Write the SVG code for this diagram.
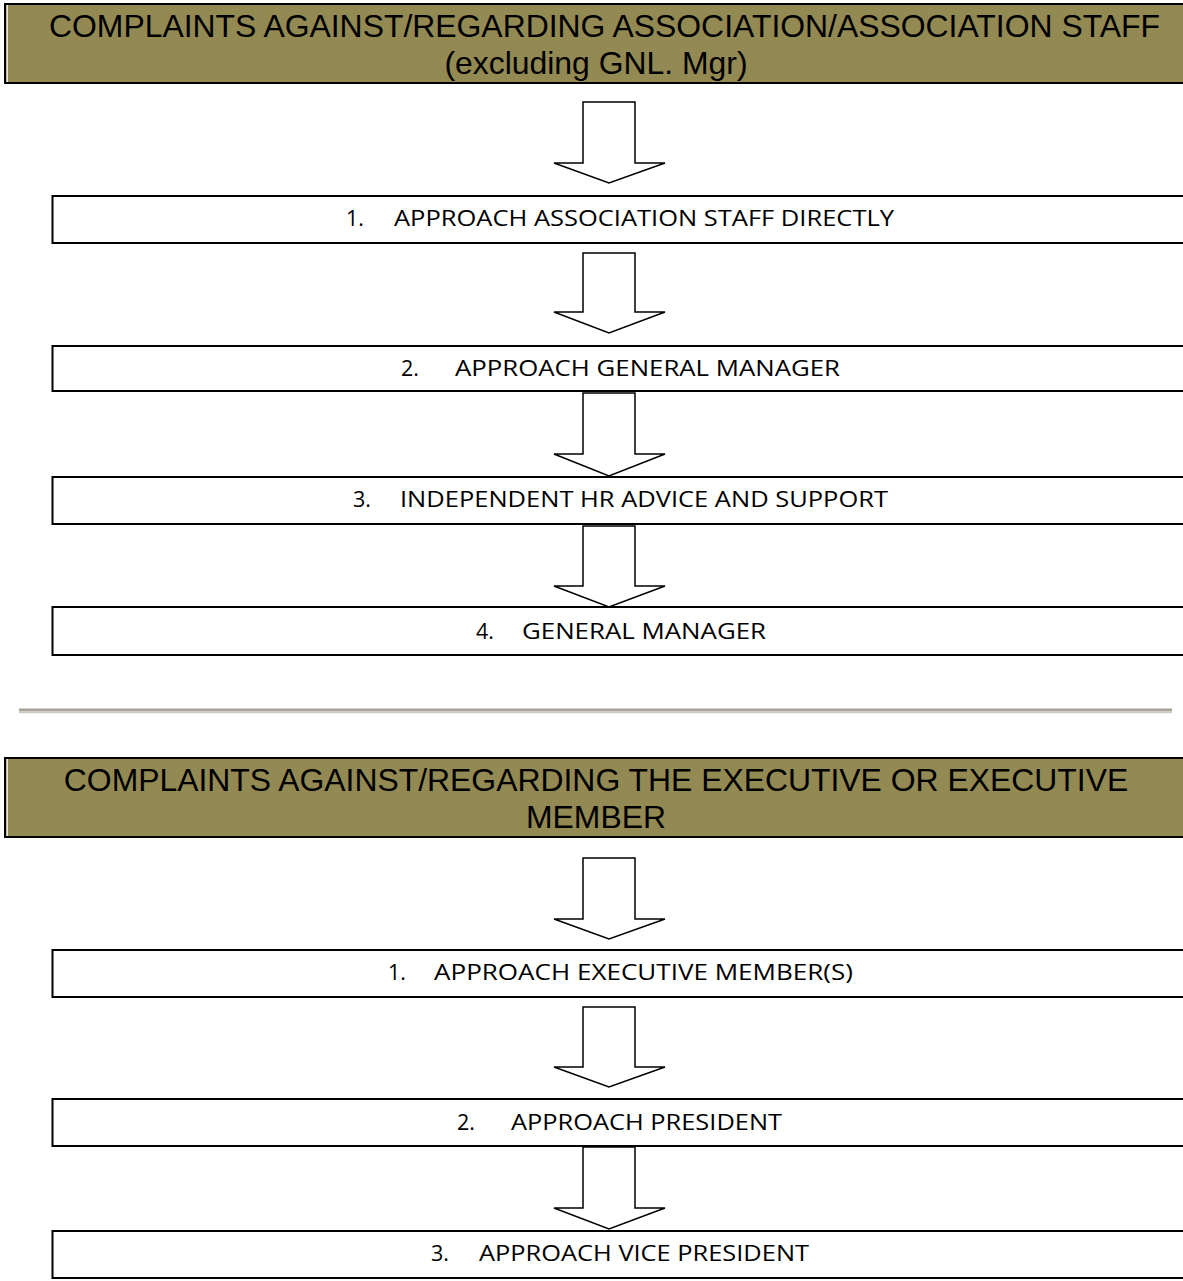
<svg xmlns="http://www.w3.org/2000/svg" width="1183" height="1281" viewBox="0 0 1183 1281">
<style>
.hdr{fill:#938953;stroke:#000;stroke-width:2}
.htxt{font-family:"Liberation Sans",Arial,sans-serif;font-size:31.9px;fill:#000;text-anchor:middle}
.box{fill:#fff;stroke:#000;stroke-width:2}
.btxt{font-family:"Open Sans","Liberation Sans",sans-serif;font-size:21.5px;fill:#000}
.arr{fill:#fff;stroke:#000;stroke-width:1.5;stroke-linejoin:miter}
</style>
<rect width="1183" height="1281" fill="#fff"/>
<g id="header1">
<rect class="hdr" x="5" y="4" width="1200" height="79"/>
<line x1="7.2" y1="5" x2="7.2" y2="82" stroke="#fff" stroke-width="1.2"/>
<text class="htxt" x="604.5" y="37">COMPLAINTS AGAINST/REGARDING ASSOCIATION/ASSOCIATION STAFF</text>
<text class="htxt" x="596" y="74">(excluding GNL. Mgr)</text>
</g>
<g id="a-step1">
<rect class="box" x="52.5" y="196" width="1160" height="47"/>
<text class="btxt" x="346" y="226">1.</text>
<text class="btxt" x="394" y="226" textLength="500" lengthAdjust="spacingAndGlyphs">APPROACH ASSOCIATION STAFF DIRECTLY</text>
</g>
<g id="a-step2">
<rect class="box" x="52.5" y="346" width="1160" height="45"/>
<text class="btxt" x="401" y="376">2.</text>
<text class="btxt" x="455" y="376" textLength="385" lengthAdjust="spacingAndGlyphs">APPROACH GENERAL MANAGER</text>
</g>
<g id="a-step3">
<rect class="box" x="52.5" y="477" width="1160" height="47"/>
<text class="btxt" x="353" y="507">3.</text>
<text class="btxt" x="400" y="507" textLength="488" lengthAdjust="spacingAndGlyphs">INDEPENDENT HR ADVICE AND SUPPORT</text>
</g>
<g id="a-step4">
<rect class="box" x="52.5" y="607" width="1160" height="48"/>
<text class="btxt" x="476" y="639">4.</text>
<text class="btxt" x="522" y="639" textLength="244" lengthAdjust="spacingAndGlyphs">GENERAL MANAGER</text>
</g>
<g id="divider">
<line x1="19" y1="710" x2="1172" y2="710" stroke="#a7a396" stroke-width="3"/>
<line x1="19" y1="712.5" x2="1172" y2="712.5" stroke="#cdcac2" stroke-width="1.5"/>
</g>
<g id="header2">
<rect class="hdr" x="5" y="758" width="1200" height="79"/>
<line x1="7.2" y1="759" x2="7.2" y2="836" stroke="#fff" stroke-width="1.2"/>
<text class="htxt" x="596" y="791">COMPLAINTS AGAINST/REGARDING THE EXECUTIVE OR EXECUTIVE</text>
<text class="htxt" x="596" y="828">MEMBER</text>
</g>
<g id="b-step1">
<rect class="box" x="52.5" y="950" width="1160" height="47"/>
<text class="btxt" x="388" y="980">1.</text>
<text class="btxt" x="434" y="980" textLength="419" lengthAdjust="spacingAndGlyphs">APPROACH EXECUTIVE MEMBER(S)</text>
</g>
<g id="b-step2">
<rect class="box" x="52.5" y="1099" width="1160" height="47"/>
<text class="btxt" x="457" y="1130">2.</text>
<text class="btxt" x="511" y="1130" textLength="271" lengthAdjust="spacingAndGlyphs">APPROACH PRESIDENT</text>
</g>
<g id="b-step3">
<rect class="box" x="52.5" y="1231" width="1160" height="47"/>
<text class="btxt" x="431" y="1261">3.</text>
<text class="btxt" x="479" y="1261" textLength="330" lengthAdjust="spacingAndGlyphs">APPROACH VICE PRESIDENT</text>
</g>
<g id="connectors">
<polygon class="arr" points="583,102 635,102 635,163 665,163 609,183 554,163 583,163"/>
<polygon class="arr" points="583,253 635,253 635,312 665,312 609,333 554,312 583,312"/>
<polygon class="arr" points="583,393 635,393 635,454 665,454 609,476 554,454 583,454"/>
<polygon class="arr" points="583,526 635,526 635,586 665,586 609,607 554,586 583,586"/>
<polygon class="arr" points="583,858 635,858 635,919 665,919 609,939 554,919 583,919"/>
<polygon class="arr" points="583,1007 635,1007 635,1067 665,1067 609,1087 554,1067 583,1067"/>
<polygon class="arr" points="583,1147 635,1147 635,1208 665,1208 609,1229 554,1208 583,1208"/>
</g>
</svg>
